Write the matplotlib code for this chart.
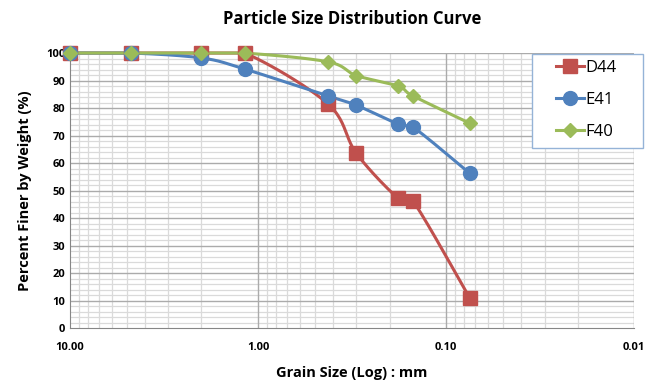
import numpy as np
import matplotlib
matplotlib.use("Agg")
import matplotlib.pyplot as plt
from matplotlib.patches import Rectangle
from matplotlib.ticker import FixedLocator, LogLocator, MultipleLocator, NullFormatter

plt.rcParams["font.family"] = ["Open Sans", "DejaVu Sans"]

# sieve sizes (mm) and percent passing
sizes = [10.0, 4.75, 2.0, 1.18, 0.425, 0.3, 0.18, 0.15, 0.075]
d44 = [100, 100, 100, 100, 81.5, 63.5, 47.2, 46.2, 11.0]
e41 = [100, 100, 98.2, 94.2, 84.4, 81.0, 74.2, 73.1, 56.3]
f40 = [100, 100, 100, 100, 96.8, 91.8, 88.0, 84.4, 74.5]

series = [("D44", d44, "#C0504D", "s", 10),
          ("E41", e41, "#4F81BD", "o", 10),
          ("F40", f40, "#9BBB59", "D", 7)]


def smooth(x, y, n=25):
    # excel-like smoothed line: catmull-rom bezier in (log x, y),
    # control points clamped so the curve never overshoots a point
    p = np.column_stack([np.log10(x), np.asarray(y, float)])
    ext = np.vstack([p[0], p, p[-1]])
    t = np.linspace(0, 1, n)[:, None]
    out = []
    for i in range(1, len(ext) - 2):
        p0, p1, p2, p3 = ext[i - 1], ext[i], ext[i + 1], ext[i + 2]
        c1 = p1 + (p2 - p0) / 6
        c2 = p2 - (p3 - p1) / 6
        lo, hi = min(p1[1], p2[1]), max(p1[1], p2[1])
        c1[1] = np.clip(c1[1], lo, hi)
        c2[1] = np.clip(c2[1], lo, hi)
        seg = ((1 - t)**3) * p1 + 3 * ((1 - t)**2) * t * c1 + 3 * (1 - t) * t**2 * c2 + t**3 * p2
        out.append(seg)
    out = np.vstack(out)
    return 10 ** out[:, 0], out[:, 1]


fig = plt.figure(figsize=(6.6, 3.87), dpi=100)
ax = fig.add_axes([0.106, 0.152, 0.855, 0.711])

for name, vals, col, mk, ms in series:
    sx, sy = smooth(sizes, vals)
    ax.plot(sx, sy, color=col, lw=2.2, zorder=3, clip_on=False)
    ax.plot(sizes, vals, linestyle="none", marker=mk, color=col, ms=ms, zorder=4, clip_on=False)
    ax.plot([], [], color=col, lw=2.2, marker=mk, ms=ms, label=name)

ax.set_xscale("log")
ax.set_xlim(10, 0.01)
ax.set_ylim(0, 100)
ax.xaxis.set_major_locator(FixedLocator([10, 1, 0.1, 0.01]))
ax.xaxis.set_minor_locator(LogLocator(base=10, subs=np.arange(2, 10)))
ax.xaxis.set_minor_formatter(NullFormatter())
ax.set_xticks([10, 1, 0.1, 0.01])
ax.set_xticklabels(["10.00", "1.00", "0.10", "0.01"])
ax.yaxis.set_major_locator(MultipleLocator(10))
ax.yaxis.set_minor_locator(MultipleLocator(2))

ax.grid(which="minor", color="#DADADA", lw=0.9, linestyle="-")
ax.set_axisbelow(True)
# major grid on top of the minor one
for v in [1, 0.1, 0.01]:
    ax.axvline(v, color="#ABABAB", lw=1.0, zorder=1)
for v in range(10, 101, 10):
    ax.axhline(v, color="#ABABAB", lw=1.0, zorder=1)
for s in ["top", "right"]:
    ax.spines[s].set_visible(False)
ax.spines["left"].set_color("#868686")
ax.spines["bottom"].set_color("#868686")
ax.tick_params(which="both", length=0, labelsize=8)
ax.tick_params(axis="x", pad=10)
for lab in ax.get_xticklabels() + ax.get_yticklabels():
    lab.set_fontweight("bold")

ax.set_title("Particle Size Distribution Curve", fontsize=12, fontweight="bold", pad=21)
ax.set_xlabel("Grain Size (Log) : mm", fontsize=10.5, fontweight="bold", labelpad=9)
ax.set_ylabel("Percent Finer by Weight (%)", fontsize=10.5, fontweight="bold", labelpad=10)

# legend box drawn separately (wide white frame like excel)
fig.add_artist(Rectangle((532 / 660, 1 - 148 / 387), 111 / 660, 94 / 387,
                         transform=fig.transFigure, facecolor="white",
                         edgecolor="#95B3D7", lw=1.0, zorder=5))
leg = fig.legend(loc="upper left", bbox_to_anchor=(551 / 660, 1 - 55 / 387), fontsize=12,
                 frameon=False, borderpad=0.3, labelspacing=0.95, handlelength=1.7,
                 handletextpad=0.05, borderaxespad=0)
leg.set_zorder(6)

fig.savefig("out.png", dpi=100)
